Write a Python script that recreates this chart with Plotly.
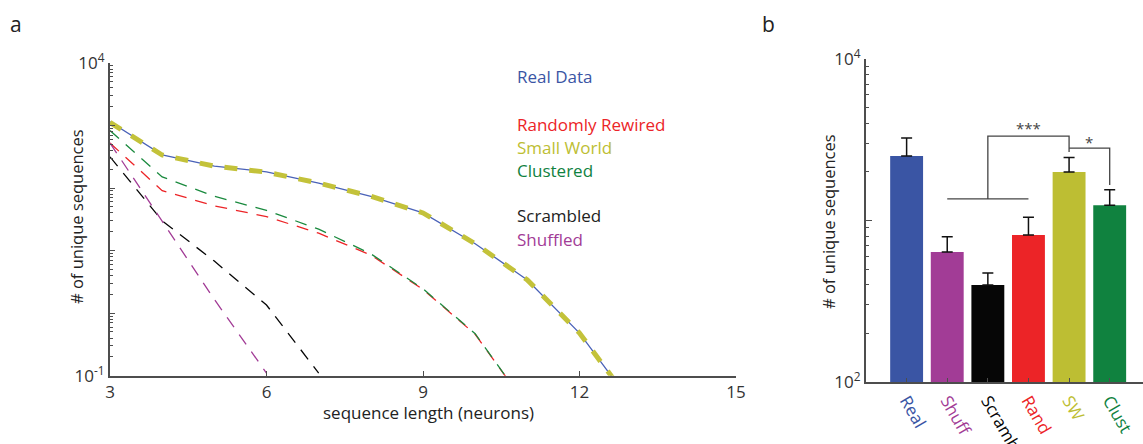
import plotly.graph_objects as go

# ---------------- data: panel a ----------------
seq_len = [3, 4, 5, 6, 7, 8, 9, 10, 11, 12, 13, 14, 15]
real_data = [1150, 340, 224, 182, 120, 74, 40, 12.9, 3.4, 0.48, 0.036, None, None]
randomly_rewired = [525, 91, 52, 35, 19, 8.5, 2.4, 0.46, 0.032, None, None, None, None]
small_world = [1120, 338, 224, 180, 120, 74, 40, 12.9, 3.4, 0.48, 0.036, None, None]
clustered = [830, 151, 74, 44, 22, 8.9, 2.45, 0.47, 0.032, None, None, None, None]
scrambled = [316, 30, 6.8, 1.35, 0.11, None, None, None, None, None, None, None, None]
shuffled = [525, 30, 1.66, 0.11, None, None, None, None, None, None, None, None, None]

# ---------------- data: panel b ----------------
bar_labels = ["Real", "Shuff", "Scramb", "Rand", "SW", "Clust"]
bar_values = [2510, 638, 398, 813, 1995, 1245]
bar_errors = [730, 156, 75, 234, 460, 304]

C_BLUE = "#3a55a4"
C_RED = "#ec2427"
C_YEL = "#bdbe33"
C_GRN = "#10823f"
C_BLK = "#060606"
C_PUR = "#a23c96"
bar_colors = [C_BLUE, C_PUR, C_BLK, C_RED, C_YEL, C_GRN]

FONT = "Open Sans"
W, H = 1143, 444

fig = go.Figure()

dash = "12px,9px"
fig.add_trace(go.Scatter(x=seq_len, y=real_data, mode="lines",
                         line=dict(color="#4a62b8", width=1.3), xaxis="x", yaxis="y"))
fig.add_trace(go.Scatter(x=seq_len, y=randomly_rewired, mode="lines",
                         line=dict(color=C_RED, width=1.3, dash=dash), xaxis="x", yaxis="y"))
fig.add_trace(go.Scatter(x=seq_len, y=small_world, mode="lines",
                         line=dict(color="#c3c23a", width=5, dash="13px,12px"), xaxis="x", yaxis="y"))
fig.add_trace(go.Scatter(x=seq_len, y=clustered, mode="lines",
                         line=dict(color="#1a8a3e", width=1.3, dash=dash), xaxis="x", yaxis="y"))
fig.add_trace(go.Scatter(x=seq_len, y=scrambled, mode="lines",
                         line=dict(color=C_BLK, width=1.3, dash=dash), xaxis="x", yaxis="y"))
fig.add_trace(go.Scatter(x=seq_len, y=shuffled, mode="lines",
                         line=dict(color=C_PUR, width=1.3, dash=dash), xaxis="x", yaxis="y"))

# panel b bars
xpos = list(range(1, len(bar_labels) + 1))
fig.add_trace(go.Bar(x=xpos, y=bar_values, width=0.81,
                     marker=dict(color=bar_colors, line=dict(width=0)),
                     error_y=dict(type="data", symmetric=False, array=bar_errors,
                                  arrayminus=[0] * len(bar_errors), color="#111111",
                                  thickness=1.5, width=5.5),
                     xaxis="x2", yaxis="y2"))

# significance brackets (positions from category indices)
i_shuff, i_scr, i_rand, i_sw, i_cl = 2, 3, 4, 5, 6
low_y, top_y, sw_drop = 1360, 3330, 2655
top2_y, cl_drop = 2810, 1660
fig.add_trace(go.Scatter(
    x=[i_shuff, i_rand, None, i_scr, i_scr, i_sw, i_sw, None, i_sw, i_cl, i_cl],
    y=[low_y, low_y, None, low_y, top_y, top_y, sw_drop, None, top2_y, top2_y, cl_drop],
    mode="lines", line=dict(color="#444444", width=1.3), xaxis="x2", yaxis="y2"))

ax_common = dict(showgrid=False, zeroline=False, showline=True, linecolor="#4d4d4d",
                 linewidth=2, ticks="inside", tickcolor="#4d4d4d", tickwidth=1,
                 automargin=False,
                 tickfont=dict(family=FONT, size=17, color="#333333"))

fig.update_layout(
    template="none",
    width=W, height=H, margin=dict(l=0, r=0, t=0, b=0, pad=0, autoexpand=False),
    paper_bgcolor="white", plot_bgcolor="white", showlegend=False,
    xaxis=dict(domain=[110 / W, 736 / W], range=[3, 15], tickvals=[3, 6, 9, 12, 15],
               ticklen=5, anchor="y", **ax_common),
    yaxis=dict(domain=[1 - 375.7 / H, 1 - 63 / H], type="log", range=[-1, 4],
               tickvals=[0.1, 1, 10, 100, 1000, 10000],
               ticktext=["10<sup>-1</sup>", "", "", "", "", "10<sup>4</sup>"],
               ticklen=5, anchor="x",
               minor=dict(ticks="inside", ticklen=3, tickcolor="#4d4d4d", dtick="D1", showgrid=False),
               **ax_common),
    xaxis2=dict(domain=[866 / W, 1.0], range=[0, 6.82], tickvals=xpos,
                ticktext=[f'<span style="color:{c}">{t}</span>' for t, c in zip(bar_labels, bar_colors)],
                tickangle=60, ticklen=4, anchor="y2", **ax_common),
    yaxis2=dict(domain=[1 - 382 / H, 1 - 59 / H], type="log", range=[2, 4],
                tickvals=[100, 1000, 10000],
                ticktext=["10<sup>2</sup>", "", "10<sup>4</sup>"],
                ticklen=6, anchor="x2",
                minor=dict(ticks="inside", ticklen=3, tickcolor="#4d4d4d", dtick="D1", showgrid=False),
                **ax_common),
)

ann = []
def txt(t, x, y, size=16, color="#222222", angle=0, xanchor="center", xref="paper", yref="paper"):
    ann.append(dict(text=t, x=x, y=y, xref=xref, yref=yref, showarrow=False,
                    xanchor=xanchor, yanchor="middle", textangle=angle,
                    font=dict(family=FONT, size=size, color=color)))

txt("a", 16 / W, 1 - 24 / H, size=21)
txt("b", 768 / W, 1 - 24 / H, size=21)
txt("# of unique sequences", 76 / W, 1 - 217 / H, size=16.5, angle=-90)
txt("sequence length (neurons)", 428 / W, 1 - 412 / H, size=17)
txt("# of unique sequences", 828 / W, 1 - 222 / H, size=16.5, angle=-90)

legend_items = [("Real Data", "#3a55a4", 76), ("Randomly Rewired", C_RED, 124),
                ("Small World", C_YEL, 147), ("Clustered", C_GRN, 170),
                ("Scrambled", "#222222", 215), ("Shuffled", C_PUR, 239)]
for t, c, yy in legend_items:
    txt(t, 515 / W, 1 - yy / H, size=17, color=c, xanchor="left")

txt("***", 4.0, 3.575, size=15, color="#444444", xref="x2", yref="y2")
txt("*", 5.48, 3.485, size=15, color="#444444", xref="x2", yref="y2")

fig.update_layout(annotations=ann)
fig.write_html("out.html")
